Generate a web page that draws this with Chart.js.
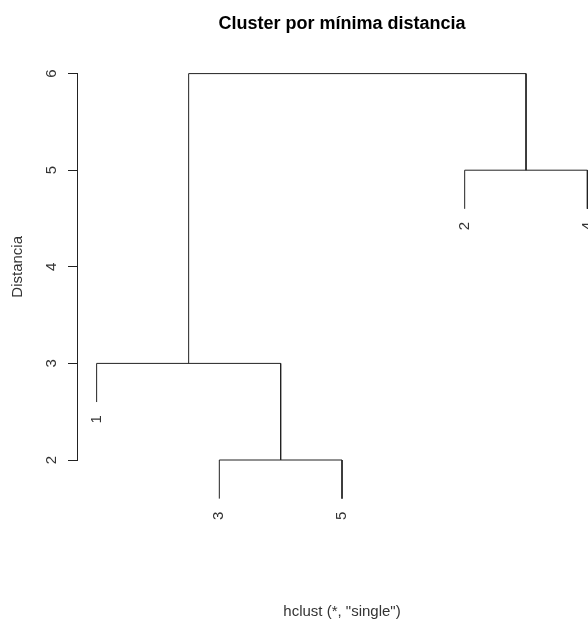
<!DOCTYPE html>
<html>
<head>
<meta charset="utf-8">
<script src="https://cdn.jsdelivr.net/npm/chart.js@4"></script>
<style>
  html, body { margin: 0; padding: 0; background: #fff; overflow: hidden; width: 588px; height: 624px; }
  /* the original R plot is wider than the picture, its right side is cut off */
  #wrap { width: 646px; height: 624px; }
</style>
</head>
<body>
<div id="wrap"><canvas id="myChart"></canvas></div>
<script>
// leaves in the order they sit on the x axis
const leafOrder = [1, 3, 5, 2, 4];
// merge steps like hclust$merge: negative = observation, positive = earlier step
const mergeLeft = [-3, -1, -2, 2];
const mergeRight = [-5, 1, -4, 3];
const mergeHeight = [2, 3, 5, 6];
const yTicks = [2, 3, 4, 5, 6];
const hang = 0.4; // 0.1 * range of heights

const font = '"Liberation Sans", Arial, sans-serif';
const ink = '#222';

// build one polyline per merge step
const nodeX = [];
const segments = [];
const leafEnds = [];

const childPos = (c, h) => {
    if (c < 0) {
        const x = leafOrder.indexOf(-c) + 1;
        leafEnds.push({ label: String(-c), x: x, y: h - hang });
        return { x: x, y: h - hang };
    }
    return { x: nodeX[c - 1], y: mergeHeight[c - 1] };
};

for (let i = 0; i < mergeHeight.length; i++) {
    const h = mergeHeight[i];
    const a = childPos(mergeLeft[i], h);
    const b = childPos(mergeRight[i], h);
    nodeX.push((a.x + b.x) / 2);
    segments.push([a, { x: a.x, y: h }, { x: b.x, y: h }, b]);
}

// leaf labels, rotated, under the end of each leaf
const leafLabels = {
    id: 'leafLabels',
    afterDatasetsDraw(chart) {
        const { ctx, scales: { x, y } } = chart;
        ctx.save();
        ctx.font = '15px ' + font;
        ctx.fillStyle = '#333';
        ctx.textAlign = 'right';
        ctx.textBaseline = 'middle';
        leafEnds.forEach(l => {
            ctx.save();
            ctx.translate(x.getPixelForValue(l.x), y.getPixelForValue(l.y) + 13);
            ctx.rotate(-Math.PI / 2);
            ctx.fillText(l.label, 0, 0);
            ctx.restore();
        });
        ctx.restore();
    }
};

const makeChart = () => {
    const el = document.getElementById('myChart');

    new Chart(el, {
        type: 'scatter',
        data: {
            datasets: segments.map(pts => ({
                data: pts,
                showLine: true,
                borderColor: ink,
                borderWidth: 1,
                pointRadius: 0,
                tension: 0,
                clip: false
            }))
        },
        options: {
            responsive: true,
            maintainAspectRatio: false,
            animation: false,
            events: [],
            layout: { padding: { top: 0, left: 0, right: 39, bottom: 0 } },
            plugins: {
                legend: { display: false },
                tooltip: { enabled: false },
                title: {
                    display: true,
                    fullSize: false,
                    text: 'Cluster por mínima distancia',
                    color: '#000',
                    font: { family: font, size: 18, weight: 'bold' },
                    padding: { top: 13, bottom: 39 }
                }
            },
            scales: {
                x: {
                    type: 'linear',
                    min: 0.84,
                    max: 5.16,
                    grid: { display: false, drawTicks: false },
                    border: { display: false },
                    ticks: { display: false },
                    title: {
                        display: true,
                        text: 'hclust (*, "single")',
                        color: '#333',
                        font: { family: font, size: 15 },
                        padding: { top: 143, bottom: 3 }
                    }
                },
                y: {
                    type: 'linear',
                    min: 2,
                    max: 6,
                    afterBuildTicks: (scale) => {
                        scale.ticks = yTicks.map(v => ({ value: v }));
                    },
                    afterFit: (scale) => {
                        scale.width = 77;
                    },
                    grid: { display: true, drawOnChartArea: false, drawTicks: true, tickLength: 9, color: ink },
                    border: { display: true, color: ink, width: 1 },
                    ticks: {
                        color: '#333',
                        font: { family: font, size: 15 },
                        minRotation: 90,
                        maxRotation: 90,
                        crossAlign: 'center',
                        padding: 12
                    },
                    title: {
                        display: true,
                        text: 'Distancia',
                        color: '#333',
                        font: { family: font, size: 15 },
                        padding: { top: 9, bottom: 0 }
                    }
                }
            }
        },
        plugins: [leafLabels]
    });
};

const init = () => {
    makeChart();
};

if (window.addEventListener) {
    window.addEventListener("load", init, false);
}
</script>
</body>
</html>
